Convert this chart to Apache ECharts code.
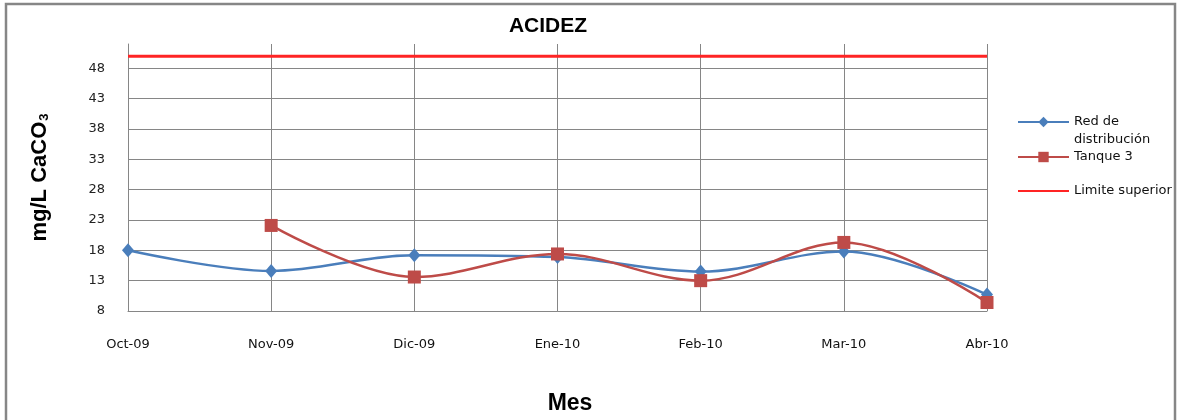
<!DOCTYPE html>
<html>
<head>
<meta charset="utf-8">
<script src="https://cdn.jsdelivr.net/npm/echarts@6/dist/echarts.min.js"></script>
<style>
html,body{margin:0;padding:0;background:#fff;}
#c{width:1188px;height:420px;}
</style>
</head>
<body>
<div id="c"></div>
<script>
const categories = ['Oct-09','Nov-09','Dic-09','Ene-10','Feb-10','Mar-10','Abr-10'];
const redDistribucion = [18.0, 14.6, 17.2, 16.9, 14.5, 17.8, 10.7];
const tanque3 = ['-', 22.1, 13.6, 17.4, 13.0, 19.3, 9.4];
const limiteSuperior = [50, 50, 50, 50, 50, 50, 50];
const yMin = 8, yMax = 52, yStep = 5;

const chart = echarts.init(document.getElementById('c'), null, {renderer:'canvas'});
const gridGray = '#868686';
const lblFont = 'DejaVu Sans';
const legendText = {fontFamily: lblFont, fontSize: 13, color: '#111', lineHeight: 18};

chart.setOption({
  animation: false,
  backgroundColor: '#ffffff',
  title: {
    text: 'ACIDEZ',
    left: 548, top: 16, padding: 0,
    textAlign: 'center',
    textStyle: {fontFamily: 'Liberation Sans', fontWeight: 'bold', fontSize: 21, color: '#000'}
  },
  grid: {left: 128, right: 201, top: 44, bottom: 109, containLabel: false},
  legend: [
    {
      data: ['Red de distribución'], orient: 'vertical', left: 1017, top: 95, padding: 0,
      itemWidth: 51, itemHeight: 13,
      formatter: function(){ return '\nRed de\ndistribución'; },
      textStyle: legendText
    },
    {
      data: ['Tanque 3'], orient: 'vertical', left: 1017, top: 148, padding: 0,
      itemWidth: 51, itemHeight: 13, textStyle: legendText
    },
    {
      data: ['Limite superior'], orient: 'vertical', left: 1017, top: 182, padding: 0,
      itemWidth: 51, itemHeight: 13, textStyle: legendText,
      itemStyle: {opacity: 0}
    }
  ],
  xAxis: {
    type: 'category',
    data: categories,
    boundaryGap: false,
    name: 'Mes',
    nameLocation: 'middle',
    nameGap: 81,
    nameTextStyle: {fontFamily: 'Liberation Sans', fontWeight: 'bold', fontSize: 23, color: '#000', padding: [0,0,0,25]},
    axisLine: {show: true, lineStyle: {color: gridGray, width: 1}},
    axisTick: {show: false},
    axisLabel: {margin: 27, fontFamily: lblFont, fontSize: 13, color: '#111'},
    splitLine: {show: true, lineStyle: {color: gridGray, width: 1}}
  },
  yAxis: {
    type: 'value',
    min: yMin, max: yMax, interval: yStep,
    name: '{a|mg/L CaCO}{s|3}',
    nameLocation: 'middle',
    nameGap: 77,
    nameTextStyle: {
      rich: {
        a: {fontFamily: 'Liberation Sans', fontWeight: 'bold', fontSize: 22, color: '#000'},
        s: {fontFamily: 'Liberation Sans', fontWeight: 'bold', fontSize: 13, color: '#000', verticalAlign: 'bottom', padding: [0,0,0,1]}
      }
    },
    axisLine: {show: true, lineStyle: {color: gridGray, width: 1}},
    axisTick: {show: false},
    axisLabel: {margin: 23, fontFamily: lblFont, fontSize: 13, color: '#222', showMaxLabel: false},
    splitLine: {show: true, showMaxLine: false, lineStyle: {color: gridGray, width: 1}}
  },
  series: [
    {
      name: 'Red de distribución',
      type: 'line',
      data: redDistribucion,
      smooth: 0.35,
      symbol: 'diamond',
      symbolSize: [12, 14],
      color: '#4a7ebb',
      lineStyle: {width: 2.5, color: '#4a7ebb'},
      itemStyle: {color: '#4a7ebb'},
      z: 3
    },
    {
      name: 'Tanque 3',
      type: 'line',
      data: tanque3,
      smooth: 0.35,
      symbol: 'rect',
      symbolSize: 13,
      color: '#be4b48',
      lineStyle: {width: 2.5, color: '#be4b48'},
      itemStyle: {color: '#be4b48'},
      z: 4
    },
    {
      name: 'Limite superior',
      type: 'line',
      data: limiteSuperior,
      symbol: 'none',
      color: '#ff2424',
      lineStyle: {width: 3, color: '#ff2424'},
      z: 5
    }
  ],
  graphic: [
    {type: 'rect', z: 100, silent: true, shape: {x: 1176, y: 0, width: 20, height: 430}, style: {fill: '#ffffff'}},
    {type: 'rect', z: 101, silent: true, shape: {x: 6, y: 4, width: 1169, height: 440}, style: {fill: 'none', stroke: '#868686', lineWidth: 2.5}}
  ]
});
</script>
</body>
</html>
